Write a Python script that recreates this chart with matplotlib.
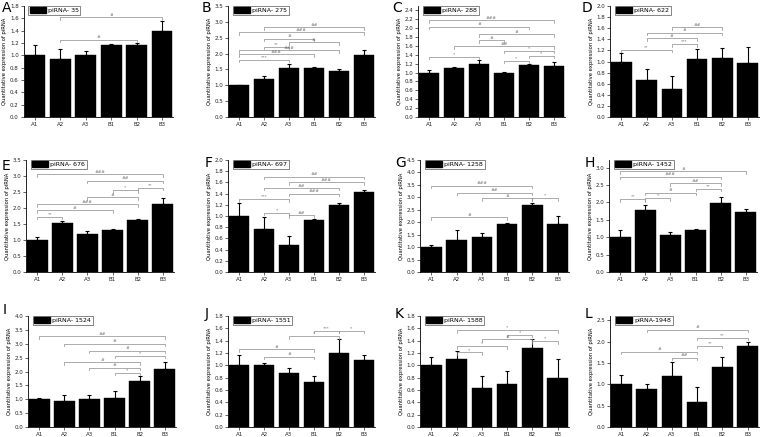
import matplotlib.pyplot as plt
from matplotlib.patches import Patch
import numpy as np

# categories shared by every panel
groups = ['A1', 'A2', 'A3', 'B1', 'B2', 'B3']

letters = ['A', 'B', 'C', 'D', 'E', 'F', 'G', 'H', 'I', 'J', 'K', 'L']
names = ['piRNA- 35', 'piRNA- 275', 'piRNA- 288', 'piRNA- 622',
         'piRNA- 676', 'piRNA- 697', 'piRNA- 1258', 'piRNA- 1452',
         'piRNA- 1524', 'piRNA- 1551', 'piRNA- 1588', 'piRNA-1948']

# mean relative expression per group
means = [
    [1.00, 0.94, 1.00, 1.16, 1.17, 1.40],
    [1.00, 1.20, 1.55, 1.55, 1.45, 1.95],
    [1.00, 1.10, 1.20, 0.99, 1.17, 1.15],
    [1.00, 0.67, 0.51, 1.05, 1.06, 0.98],
    [1.00, 1.52, 1.18, 1.30, 1.62, 2.12],
    [1.00, 0.77, 0.49, 0.92, 1.20, 1.43],
    [1.00, 1.27, 1.42, 1.92, 2.70, 1.92],
    [1.00, 1.77, 1.05, 1.20, 1.97, 1.72],
    [1.00, 0.93, 1.01, 1.06, 1.67, 2.10],
    [1.00, 1.01, 0.88, 0.73, 1.20, 1.09],
    [1.00, 1.10, 0.64, 0.69, 1.28, 0.80],
    [1.00, 0.90, 1.20, 0.58, 1.40, 1.90],
]

# upper error bars
errors = [
    [0.17, 0.17, 0.07, 0.03, 0.03, 0.15],
    [0.02, 0.08, 0.13, 0.03, 0.07, 0.17],
    [0.06, 0.02, 0.09, 0.03, 0.02, 0.08],
    [0.15, 0.20, 0.22, 0.18, 0.18, 0.29],
    [0.10, 0.06, 0.10, 0.04, 0.03, 0.20],
    [0.23, 0.22, 0.15, 0.03, 0.03, 0.03],
    [0.10, 0.40, 0.13, 0.03, 0.08, 0.32],
    [0.20, 0.17, 0.10, 0.05, 0.20, 0.10],
    [0.05, 0.23, 0.13, 0.22, 0.15, 0.25],
    [0.16, 0.03, 0.07, 0.09, 0.22, 0.08],
    [0.14, 0.14, 0.19, 0.22, 0.15, 0.31],
    [0.22, 0.11, 0.33, 0.36, 0.24, 0.08],
]

# significance brackets: (from group, to group, height, label)
brackets = [
    [(1, 5, 1.62, '#'), (1, 4, 1.25, '#')],
    [(1, 5, 2.83, '##'), (0, 5, 2.67, '###'), (1, 3, 2.47, '#'), (2, 4, 2.35, '#'),
     (1, 2, 2.22, '**'), (0, 4, 2.10, '###'), (0, 3, 1.98, '###'), (0, 2, 1.80, '***')],
    [(0, 5, 2.18, '###'), (0, 4, 2.03, '#'), (2, 5, 1.86, '#'), (2, 3, 1.73, '#'),
     (1, 5, 1.59, '##'), (3, 5, 1.49, '*'), (0, 2, 1.36, '*'), (4, 5, 1.38, '*'),
     (3, 4, 1.26, '*')],
    [(2, 4, 1.62, '##'), (1, 4, 1.52, '#'), (1, 3, 1.42, '#'), (2, 3, 1.31, '***'),
     (0, 2, 1.21, '**')],
    [(0, 5, 3.05, '###'), (2, 5, 2.85, '##'), (3, 4, 2.56, '*'), (4, 5, 2.63, '**'),
     (2, 4, 2.33, '#'), (0, 4, 2.12, '###'), (0, 3, 1.93, '#'), (0, 1, 1.72, '**')],
    [(1, 5, 1.70, '##'), (2, 5, 1.60, '###'), (1, 4, 1.50, '##'), (2, 4, 1.40, '###'),
     (0, 2, 1.30, '***'), (1, 2, 1.06, '*'), (2, 3, 1.01, '##')],
    [(0, 4, 3.47, '###'), (1, 4, 3.19, '##'), (2, 4, 2.96, '#'), (4, 5, 2.96, '*'),
     (0, 3, 2.19, '#')],
    [(0, 5, 2.90, '#'), (0, 4, 2.74, '###'), (2, 4, 2.55, '##'), (3, 4, 2.40, '**'),
     (1, 3, 2.28, '#'), (0, 1, 2.09, '**'), (1, 2, 2.12, '*')],
    [(0, 5, 3.27, '##'), (1, 5, 3.00, '#'), (2, 5, 2.74, '#'), (3, 5, 2.56, '*'),
     (1, 4, 2.34, '#'), (2, 4, 2.13, '#'), (3, 4, 1.96, '*')],
    [(3, 4, 1.56, '***'), (4, 5, 1.56, '*'), (2, 4, 1.47, '*'), (0, 3, 1.26, '#'),
     (1, 3, 1.14, '#')],
    [(1, 5, 1.57, '*'), (3, 4, 1.50, '*'), (2, 4, 1.42, '#'), (4, 5, 1.39, '*'),
     (1, 3, 1.31, '*'), (1, 2, 1.21, '*')],
    [(1, 5, 2.28, '#'), (3, 5, 2.09, '**'), (3, 4, 1.90, '**'), (0, 3, 1.76, '#'),
     (2, 3, 1.62, '##')],
]

ymax = [1.8, 3.5, 2.5, 2.0, 3.5, 2.0, 4.5, 3.22, 4.0, 1.8, 1.8, 2.6]
ytop = [1.8, 3.5, 2.4, 2.0, 3.5, 2.0, 4.5, 3.0, 4.0, 1.8, 1.8, 2.5]
ystep = [0.2, 0.5, 0.2, 0.2, 0.5, 0.2, 0.5, 0.5, 0.5, 0.2, 0.2, 0.5]

# axes placement in pixels (left, right) per panel, (top, bottom) per row
W, H = 762, 437
cols = [(23.6, 173.4), (228, 375), (418, 565), (610, 759),
        (26, 174), (228, 375), (420, 569), (609, 757),
        (28, 176), (228, 375), (420, 569), (610, 759)]
rows = [(6, 117), (160, 272), (316, 427)]
letter_pos = [(2, 12), (202, 12), (392, 12), (582, 12),
              (2, 170), (205, 167), (395, 167), (585, 167),
              (3, 314), (205, 318), (395, 318), (585, 318)]

grey = '#8a8a8a'

fig = plt.figure(figsize=(W / 100, H / 100), dpi=100)

for k in range(12):
    l, r = cols[k]
    t, b = rows[k // 4]
    ax = fig.add_axes([l / W, 1 - b / H, (r - l) / W, (b - t) / H])
    x = np.arange(len(groups))
    ax.bar(x, means[k], width=0.82, color='black', edgecolor='black', linewidth=0.3)
    ax.errorbar(x, means[k], yerr=[np.zeros(6), errors[k]], fmt='none',
                ecolor='black', elinewidth=0.8, capsize=1.6, capthick=0.8)

    tick = ymax[k] * 0.022
    for i, j, h, lab in brackets[k]:
        ax.plot([i, i, j, j], [h - tick, h, h, h - tick], color=grey, lw=0.5)
        ax.text((i + j) / 2, h + tick * 0.2, lab, ha='center', va='bottom',
                fontsize=3.2, color='#666666')

    ax.set_xlim(-0.45, 5.45)
    ax.set_ylim(0, ymax[k])
    ax.set_xticks(x)
    ax.set_xticklabels(groups)
    yt = np.arange(0, ytop[k] + 1e-6, ystep[k])
    ax.set_yticks(yt)
    ax.set_yticklabels([f'{v:.1f}' for v in yt])
    ax.tick_params(labelsize=4, length=2, width=0.5, pad=1.5, colors='#222222')
    for side in ['top', 'right']:
        ax.spines[side].set_visible(False)
    for side in ['left', 'bottom']:
        ax.spines[side].set_linewidth(0.6)
    ax.set_ylabel('Quantitative expression of piRNA', fontsize=3.8, labelpad=2)

    leg = ax.legend(handles=[Patch(facecolor='black', edgecolor='black')],
                    labels=[names[k]], loc='upper left', bbox_to_anchor=(0.01, 1.03),
                    fontsize=4.5, handlelength=2.6, handleheight=0.9,
                    borderpad=0.25, handletextpad=0.3, fancybox=False, framealpha=1)
    leg.get_frame().set_edgecolor('#555555')
    leg.get_frame().set_linewidth(0.5)

    lx, ly = letter_pos[k]
    fig.text(lx / W, 1 - ly / H, letters[k], fontsize=10, ha='left', va='baseline')

fig.savefig('out.png', dpi=100)
